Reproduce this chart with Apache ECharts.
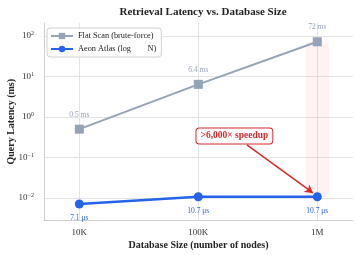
<!DOCTYPE html>
<html><head><meta charset="utf-8">
<script src="https://cdn.jsdelivr.net/npm/echarts@6/dist/echarts.min.js"></script>
<style>html,body{margin:0;padding:0;background:#fff}#c{width:357px;height:255px}</style>
</head><body><div id="c"></div>
<script>
const sizes = [1e4, 1e5, 1e6];
const sizeLabels = ['10K', '100K', '1M'];
const flatScanMs = [0.5, 6.4, 72];
const aeonAtlasMs = [0.0071, 0.0107, 0.0107];
const seriesNames = ['Flat Scan (brute-force)', 'Aeon Atlas (log        N)'];

const FONT = "'Liberation Serif','DejaVu Serif',serif";
const FLAT = '#94a3b8', AEON = '#2563eb', RED = '#dc2626';

const chart = echarts.init(document.getElementById('c'), null, {renderer: 'canvas'});
function isPow(v) { const l = Math.log10(v); return Math.abs(l - Math.round(l)) < 1e-6; }

chart.setOption({
  animation: false,
  title: {text: 'Retrieval Latency vs. Database Size', left: 198, textAlign: 'center', top: 2,
    textStyle: {fontFamily: FONT, fontSize: 11, fontWeight: 'bold', color: '#222'}},
  grid: {left: 44, right: 4, top: 23, bottom: 34.5, containLabel: false, outerBoundsMode: 'none'},
  legend: {left: 47, top: 28, orient: 'vertical', itemWidth: 22, itemHeight: 8, itemGap: 5,
    padding: [4, 5, 4, 3], backgroundColor: '#fff', borderColor: '#d0d0d0', borderWidth: 1, borderRadius: 3,
    textStyle: {fontFamily: FONT, fontSize: 8.3, color: '#222'}, data: seriesNames},
  xAxis: {type: 'log', logBase: 10, min: Math.pow(10, 3.703), max: Math.pow(10, 6.3),
    name: 'Database Size (number of nodes)', nameLocation: 'middle', nameGap: 20, nameMoveOverlap: false,
    nameTextStyle: {fontFamily: FONT, fontSize: 10, fontWeight: 'bold', color: '#222'},
    axisLine: {show: true, lineStyle: {color: '#cfcfcf'}}, axisTick: {show: false},
    axisLabel: {fontFamily: FONT, fontSize: 9, color: '#333', margin: 8, showMinLabel: false, showMaxLabel: false,
      formatter: v => { const i = sizes.findIndex(s => Math.abs(Math.log10(s) - Math.log10(v)) < 1e-6); return i >= 0 ? sizeLabels[i] : ''; }},
    splitLine: {show: true, showMinLine: false, showMaxLine: false, lineStyle: {color: '#e3e3e3', width: 1}}},
  yAxis: {type: 'log', logBase: 10, min: Math.pow(10, -2.556), max: Math.pow(10, 2.321),
    name: 'Query Latency (ms)', nameLocation: 'middle', nameGap: 28, nameMoveOverlap: false,
    nameTextStyle: {fontFamily: FONT, fontSize: 10, fontWeight: 'bold', color: '#222'},
    axisLine: {show: true, lineStyle: {color: '#cfcfcf'}}, axisTick: {show: false},
    axisLabel: {fontFamily: FONT, fontSize: 9, color: '#333', margin: 10, showMinLabel: false, showMaxLabel: false,
      formatter: v => { if (!isPow(v)) return ''; const e = Math.round(Math.log10(v)); return '{b|10}{s|' + String(e).replace('-', '\u2212') + '}'; },
      rich: {b: {fontFamily: FONT, fontSize: 9, color: '#333'}, s: {fontFamily: FONT, fontSize: 6, color: '#333', verticalAlign: 'top', padding: [0, 0, 5, 0]}}},
    splitLine: {show: true, showMinLine: false, showMaxLine: false, lineStyle: {color: '#e3e3e3', width: 1}}},
  series: [
    {name: seriesNames[0], type: 'line', data: sizes.map((s, i) => [s, flatScanMs[i]]),
      symbol: 'rect', symbolSize: 9, lineStyle: {color: FLAT, width: 2}, itemStyle: {color: FLAT},
      label: {show: true, position: 'top', distance: 6, fontFamily: FONT, fontSize: 7.5, color: FLAT,
        formatter: p => p.value[1] + ' ms'},
      markArea: {silent: true, itemStyle: {color: 'rgba(239,68,68,0.07)'},
        data: [[{coord: [8e5, aeonAtlasMs[2]]}, {coord: [1.25e6, flatScanMs[2]]}]]}},
    {name: seriesNames[1], type: 'line', data: sizes.map((s, i) => [s, aeonAtlasMs[i]]),
      symbol: 'circle', symbolSize: 9, lineStyle: {color: AEON, width: 2.5}, itemStyle: {color: AEON},
      label: {show: true, position: 'bottom', distance: 6, fontFamily: FONT, fontSize: 7.5, color: AEON,
        formatter: p => (p.value[1] * 1000).toFixed(1) + ' \u03bcs'},
      markLine: {silent: true, symbol: ['none', 'arrow'], symbolSize: [7, 8],
        lineStyle: {color: RED, width: 1.5, type: 'solid'}, label: {show: false},
        data: [[{coord: [2.56e5, 0.204]}, {coord: [9.2e5, 0.0133]}]]},
      markPoint: {silent: true, symbol: 'rect', symbolSize: 1, itemStyle: {color: 'rgba(0,0,0,0)'},
        data: [{coord: [2.01e5, 0.34]}],
        label: {show: true, position: 'inside', formatter: '>6,000\u00d7 speedup', fontFamily: FONT, fontSize: 9.5,
          fontWeight: 'bold', color: RED, backgroundColor: '#fff', borderColor: RED, borderWidth: 1,
          borderRadius: 3, padding: [3, 4, 2, 4]}}}
  ]
});
</script></body></html>
